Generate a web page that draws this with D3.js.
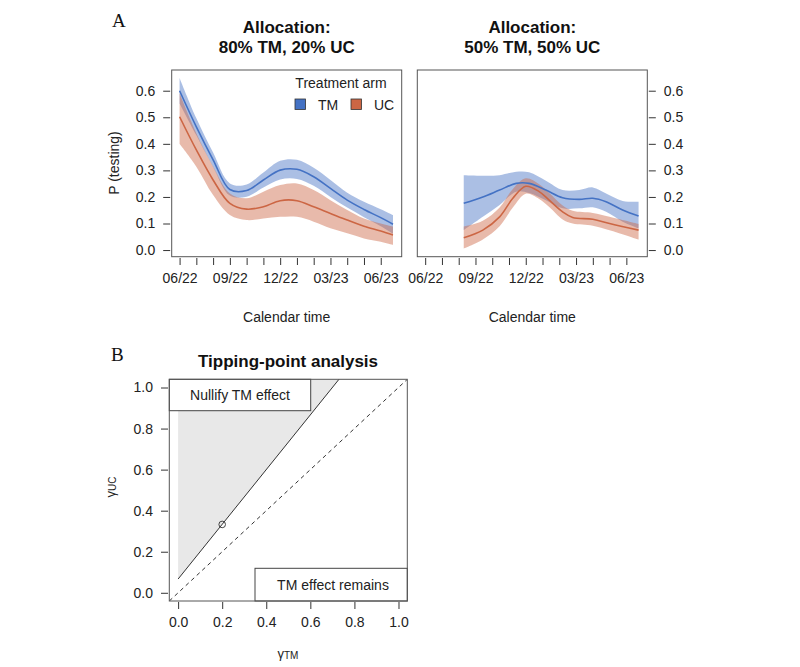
<!DOCTYPE html>
<html>
<head>
<meta charset="utf-8">
<script src="https://cdn.jsdelivr.net/npm/d3@7"></script>
<style>
  body { margin: 0; background: #fff; }
  text { font-family: "Liberation Sans", Arial, sans-serif; fill: #222; }
</style>
</head>
<body>
<div id="chart-area"></div>
<script>
/*
*    tipping-point figure
*/

// ---- data ----
var monthTicks = [0, 1, 2, 3, 4, 5, 6, 7, 8, 9, 10, 11, 12];
var monthLabelAt = [0, 3, 6, 9, 12];
var monthLabels = ["06/22", "09/22", "12/22", "03/23", "06/23"];
var probTicks = [0.0, 0.1, 0.2, 0.3, 0.4, 0.5, 0.6];
var armNames = ["TM", "UC"];

// 80% TM / 20% UC  (month index since 06/22)
var leftTmMonth = [0, 1, 2, 3, 4, 5, 6, 7, 8, 9, 10, 11, 12, 12.73];
var leftTmMean  = [0.600, 0.464, 0.340, 0.228, 0.224, 0.264, 0.301, 0.304, 0.276, 0.232, 0.188, 0.153, 0.122, 0.097];
var leftTmLow   = [0.552, 0.432, 0.313, 0.205, 0.201, 0.236, 0.266, 0.268, 0.242, 0.200, 0.160, 0.124, 0.090, 0.062];
var leftTmHigh  = [0.648, 0.496, 0.367, 0.251, 0.247, 0.292, 0.336, 0.340, 0.310, 0.264, 0.216, 0.182, 0.154, 0.132];

var leftUcMonth = [0, 1, 2, 3, 4, 5, 6, 7, 8, 9, 10, 11, 12, 12.73];
var leftUcMean  = [0.502, 0.377, 0.264, 0.176, 0.154, 0.163, 0.186, 0.186, 0.163, 0.138, 0.113, 0.090, 0.072, 0.057];
var leftUcLow   = [0.400, 0.314, 0.207, 0.132, 0.113, 0.119, 0.125, 0.125, 0.107, 0.082, 0.063, 0.044, 0.031, 0.019];
var leftUcHigh  = [0.590, 0.440, 0.315, 0.213, 0.195, 0.220, 0.245, 0.251, 0.226, 0.188, 0.151, 0.119, 0.100, 0.088];

// 50% TM / 50% UC
var rightTmMonth = [2.3, 3.44, 4.44, 5.43, 6.2, 7.2, 8.2, 9.19, 10, 10.79, 11.78, 12.73];
var rightTmMean  = [0.176, 0.200, 0.226, 0.251, 0.251, 0.226, 0.197, 0.191, 0.195, 0.182, 0.151, 0.128];
var rightTmLow   = [0.075, 0.125, 0.170, 0.220, 0.215, 0.188, 0.157, 0.157, 0.161, 0.144, 0.107, 0.082];
var rightTmHigh  = [0.282, 0.280, 0.282, 0.295, 0.293, 0.261, 0.226, 0.226, 0.236, 0.213, 0.185, 0.182];

var rightUcMonth = [2.3, 3.44, 4.44, 5.23, 6.0, 6.8, 7.4, 8.2, 8.8, 10, 11, 12.73];
var rightUcMean  = [0.046, 0.075, 0.125, 0.195, 0.240, 0.220, 0.188, 0.144, 0.123, 0.116, 0.100, 0.075];
var rightUcLow   = [0.006, 0.040, 0.090, 0.160, 0.212, 0.192, 0.162, 0.115, 0.100, 0.092, 0.075, 0.040];
var rightUcHigh  = [0.088, 0.110, 0.160, 0.230, 0.270, 0.248, 0.215, 0.168, 0.148, 0.140, 0.125, 0.098];

// tipping-point analysis
var gammaTicks = [0.0, 0.2, 0.4, 0.6, 0.8, 1.0];
var tippingTM = [0, 1];
var tippingUC = [0.067, 1.400];
var pointTM = [0.2];
var pointUC = [0.333];

// ---- setup ----
var blue = "#4472c4";
var red = "#cc6644";
var armColor = d3.scaleOrdinal().domain(armNames).range([blue, red]);

var svg = d3.select("#chart-area").append("svg").attr("width", 800).attr("height", 667);
svg.append("rect").attr("width", 800).attr("height", 667).attr("fill", "#fff");

function zip(m, mean, lo, hi) {
	return m.map((d, i) => { return {m: d, mean: mean[i], lo: lo[i], hi: hi[i]}; });
}

var y = d3.scaleLinear().domain([-0.025, 0.678]).range([256.7, 70]);

function panel(left, title, series, yOnRight) {
	var x = d3.scaleLinear().domain([-0.47, 13.25]).range([left, left + 230]);
	var g = svg.append("g");
	var clipId = "clip" + Math.round(left);
	g.append("clipPath").attr("id", clipId).append("rect")
		.attr("x", left).attr("y", 70).attr("width", 230).attr("height", 186.7);

	var area = d3.area().x((d) => x(d.m)).y0((d) => y(d.lo)).y1((d) => y(d.hi)).curve(d3.curveCatmullRom);
	var line = d3.line().x((d) => x(d.m)).y((d) => y(d.mean)).curve(d3.curveCatmullRom);

	var plot = g.append("g").attr("clip-path", "url(#" + clipId + ")");
	series.forEach((s) => {
		plot.append("path").datum(s.data).attr("d", area).attr("fill", armColor(s.arm)).attr("fill-opacity", 0.45);
	});
	series.forEach((s) => {
		plot.append("path").datum(s.data).attr("d", line).attr("fill", "none")
			.attr("stroke", armColor(s.arm)).attr("stroke-width", 1.6);
	});

	g.append("rect").attr("x", left).attr("y", 70).attr("width", 230).attr("height", 186.7)
		.attr("fill", "none").attr("stroke", "#555").attr("stroke-width", 1);

	// x ticks
	var xAxis = d3.axisBottom(x).tickValues(monthTicks).tickSize(7).tickSizeOuter(0)
		.tickFormat((d) => { var k = monthLabelAt.indexOf(d); return k < 0 ? "" : monthLabels[k]; });
	var xg = g.append("g").attr("transform", "translate(0,258)").call(xAxis);
	xg.select(".domain").remove();
	xg.selectAll("line").attr("stroke", "#333");
	xg.selectAll("text").attr("font-size", "14px").attr("fill", "#222").attr("dy", "1.05em")
		.style("font-family", "Liberation Sans, Arial, sans-serif");

	// y ticks
	var yAxis = (yOnRight ? d3.axisRight(y) : d3.axisLeft(y)).tickValues(probTicks).tickSize(7)
		.tickFormat(d3.format(".1f"));
	var yg = g.append("g").attr("transform", "translate(" + (yOnRight ? left + 231.5 : left - 1.5) + ",0)").call(yAxis);
	yg.select(".domain").remove();
	yg.selectAll("line").attr("stroke", "#333");
	yg.selectAll("text").attr("font-size", "14px").attr("fill", "#222")
		.attr("x", yOnRight ? 15 : -15).style("font-family", "Liberation Sans, Arial, sans-serif");

	g.append("text").attr("x", left + 115).attr("y", 322).attr("text-anchor", "middle")
		.attr("font-size", "14px").text("Calendar time");

	var t = g.append("text").attr("text-anchor", "middle").attr("font-size", "17px").attr("font-weight", "bold")
		.style("fill", "#111");
	t.append("tspan").attr("x", left + 115).attr("y", 33).text(title[0]);
	t.append("tspan").attr("x", left + 115).attr("y", 53).text(title[1]);
	return g;
}

var leftPanel = panel(171.7, ["Allocation:", "80% TM, 20% UC"], [
	{arm: "TM", data: zip(leftTmMonth, leftTmMean, leftTmLow, leftTmHigh)},
	{arm: "UC", data: zip(leftUcMonth, leftUcMean, leftUcLow, leftUcHigh)}
], false);

panel(417.3, ["Allocation:", "50% TM, 50% UC"], [
	{arm: "TM", data: zip(rightTmMonth, rightTmMean, rightTmLow, rightTmHigh)},
	{arm: "UC", data: zip(rightUcMonth, rightUcMean, rightUcLow, rightUcHigh)}
], true);

svg.append("text").attr("transform", "translate(119,163) rotate(-90)").attr("text-anchor", "middle")
	.attr("font-size", "14px").text("P (testing)");

// legend
var legend = leftPanel.append("g");
legend.append("text").attr("x", 341).attr("y", 87.5).attr("text-anchor", "middle").attr("font-size", "14px").text("Treatment arm");
armNames.forEach((a, i) => {
	var row = legend.append("g").attr("transform", "translate(" + (295 + i * 56) + ",0)");
	row.append("rect").attr("x", 0).attr("y", 99).attr("width", 10.5).attr("height", 10.5)
		.attr("fill", armColor(a)).attr("stroke", "#333").attr("stroke-width", 0.8);
	row.append("text").attr("x", 23).attr("y", 109.5).attr("font-size", "14px").text(a);
});

// panel letters
svg.append("text").attr("x", 112).attr("y", 27).attr("font-size", "19px")
	.style("font-family", "Liberation Serif, Times New Roman, serif").style("fill", "#111").text("A");
svg.append("text").attr("x", 111).attr("y", 361).attr("font-size", "19px")
	.style("font-family", "Liberation Serif, Times New Roman, serif").style("fill", "#111").text("B");

// ---- tipping point panel ----
var bx = d3.scaleLinear().domain([-0.04, 1.04]).range([169.3, 407.3]);
var by = d3.scaleLinear().domain([-0.04, 1.04]).range([601, 379.3]);
var gB = svg.append("g");
gB.append("clipPath").attr("id", "clipB").append("rect")
	.attr("x", bx.range()[0]).attr("y", by.range()[1]).attr("width", 238).attr("height", 601 - 379.3);
var plotB = gB.append("g").attr("clip-path", "url(#clipB)");

var tipData = tippingTM.map((d, i) => { return {x: d, y: tippingUC[i]}; });
plotB.append("path").datum(tipData)
	.attr("d", d3.area().x((d) => bx(d.x)).y0((d) => by(d.y)).y1(() => by(1.04)))
	.attr("fill", "#e8e8e8");
plotB.append("path").datum(tipData)
	.attr("d", d3.line().x((d) => bx(d.x)).y((d) => by(d.y)))
	.attr("fill", "none").attr("stroke", "#333").attr("stroke-width", 1);
plotB.append("path").datum([-0.04, 1.04])
	.attr("d", d3.line().x((d) => bx(d)).y((d) => by(d)))
	.attr("fill", "none").attr("stroke", "#333").attr("stroke-width", 1).attr("stroke-dasharray", "4,3.5");
plotB.selectAll("circle").data(pointTM).enter().append("circle")
	.attr("cx", (d) => bx(d)).attr("cy", (d, i) => by(pointUC[i])).attr("r", 3.3)
	.attr("fill", "none").attr("stroke", "#333").attr("stroke-width", 0.9);

// legend boxes
gB.append("rect").attr("x", 169.3).attr("y", 379.3).attr("width", 141.4).attr("height", 31.4)
	.attr("fill", "#fff").attr("stroke", "#444").attr("stroke-width", 1);
gB.append("text").attr("x", 240).attr("y", 400).attr("text-anchor", "middle").attr("font-size", "14px").text("Nullify TM effect");
gB.append("rect").attr("x", 255).attr("y", 568.3).attr("width", 152.3).attr("height", 32.7)
	.attr("fill", "#fff").attr("stroke", "#444").attr("stroke-width", 1);
gB.append("text").attr("x", 333).attr("y", 590).attr("text-anchor", "middle").attr("font-size", "14px").text("TM effect remains");

gB.append("rect").attr("x", 169.3).attr("y", 379.3).attr("width", 238).attr("height", 601 - 379.3)
	.attr("fill", "none").attr("stroke", "#555").attr("stroke-width", 1);

var bxg = gB.append("g").attr("transform", "translate(0,602)")
	.call(d3.axisBottom(bx).tickValues(gammaTicks).tickSize(7).tickFormat(d3.format(".1f")));
bxg.select(".domain").remove();
bxg.selectAll("line").attr("stroke", "#333");
bxg.selectAll("text").attr("font-size", "14px").attr("fill", "#222").attr("dy", "1.05em")
	.style("font-family", "Liberation Sans, Arial, sans-serif");

var byg = gB.append("g").attr("transform", "translate(168,0)")
	.call(d3.axisLeft(by).tickValues(gammaTicks).tickSize(7).tickFormat(d3.format(".1f")));
byg.select(".domain").remove();
byg.selectAll("line").attr("stroke", "#333");
byg.selectAll("text").attr("font-size", "14px").attr("fill", "#222").attr("x", -15)
	.style("font-family", "Liberation Sans, Arial, sans-serif");

gB.append("text").attr("x", 288).attr("y", 367).attr("text-anchor", "middle").attr("font-size", "17px")
	.attr("font-weight", "bold").style("fill", "#111").text("Tipping-point analysis");

var xl = gB.append("text").attr("x", 288).attr("y", 658).attr("text-anchor", "middle");
xl.append("tspan").attr("font-size", "13px").text("γ");
xl.append("tspan").attr("font-size", "10px").attr("dy", 1).text("TM");
var yl = gB.append("text").attr("transform", "translate(115,487) rotate(-90)").attr("text-anchor", "middle");
yl.append("tspan").attr("font-size", "13px").text("γ");
yl.append("tspan").attr("font-size", "10px").attr("dy", 1).text("UC");
</script>
</body>
</html>
